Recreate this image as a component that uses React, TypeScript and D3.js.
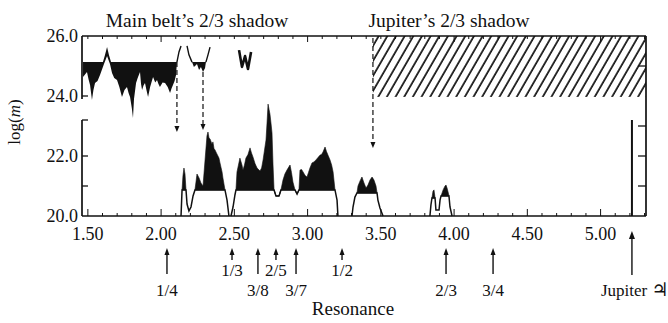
import * as d3 from "d3";

type Pt = [number, number];

// main belt's shadow (top band)
const beltTop: Pt[] = [[1.467, 25.13], [1.603, 25.13], [1.617, 25.37], [1.631, 25.63], [1.644, 25.37], [1.658, 25.13], [2.108, 25.13]];
const beltBottom: Pt[] = [[1.467, 24.63], [1.494, 24.8], [1.505, 24.55], [1.515, 24.37], [1.528, 23.87], [1.538, 24.2], [1.549, 24.43], [1.566, 24.5], [1.583, 24.7], [1.61, 25.07], [1.631, 25.33], [1.651, 25.07], [1.665, 24.77], [1.68, 24.6], [1.699, 24.53], [1.715, 24.3], [1.733, 23.97], [1.75, 24.2], [1.767, 24.3], [1.778, 24.1], [1.788, 23.97], [1.8, 23.6], [1.808, 23.27], [1.815, 23.9], [1.829, 24.43], [1.84, 24.6], [1.856, 24.8], [1.863, 24.4], [1.87, 24.2], [1.88, 24.35], [1.89, 24.43], [1.9, 24.2], [1.911, 23.97], [1.925, 24.3], [1.945, 24.63], [1.96, 24.45], [1.972, 24.53], [1.982, 24.4], [1.992, 24.3], [2.01, 24.45], [2.027, 24.43], [2.045, 24.3], [2.061, 24.1], [2.071, 24.25], [2.081, 24.37], [2.092, 24.5], [2.102, 24.7], [2.108, 25.13]];
const beltWall: Pt[] = [[2.108, 25.13], [2.122, 25.47], [2.136, 25.67]];
const pocketLeft: Pt[] = [[2.177, 25.67], [2.19, 25.37], [2.211, 25.13]];
const pocketRight: Pt[] = [[2.306, 25.13], [2.32, 25.37], [2.334, 25.63]];
const pocketTop: Pt[] = [[2.211, 25.13], [2.306, 25.13]];
const pocketBottom: Pt[] = [[2.211, 25.13], [2.224, 24.97], [2.235, 25.02], [2.245, 25.07], [2.259, 24.87], [2.272, 24.97], [2.286, 24.8], [2.3, 24.93], [2.306, 25.13]];
const wPath: Pt[] = [[2.532, 25.53], [2.552, 24.97], [2.573, 25.33], [2.593, 24.9], [2.614, 25.47]];

// Jupiter's shadow (hatched)
const hatchFrom = 3.446;
const hatchLow = 23.97;

// dashed arrows: [resonance, from, to]
const dashedArrows: [number, number, number][] = [[2.108, 25.13, 22.8], [2.286, 24.8, 22.87], [3.446, 25.93, 22.27]];

// lower clusters: outline (white area) and upper envelope (black area)
const outlineA: Pt[] = [[2.136, 20], [2.143, 20.87], [2.17, 20.87], [2.177, 20.4], [2.19, 20.17], [2.204, 20.3], [2.218, 20.67], [2.231, 20.87], [2.436, 20.87], [2.45, 20.53], [2.463, 20]];
const upperA1: Pt[] = [[2.143, 20.87], [2.149, 21.33], [2.156, 21.6], [2.163, 21.4], [2.17, 20.87]];
const upperA2: Pt[] = [[2.231, 20.87], [2.238, 21.13], [2.245, 21.4], [2.259, 21.27], [2.272, 21.1], [2.286, 21.0], [2.3, 21.87], [2.307, 22.3], [2.313, 22.67], [2.32, 22.8], [2.327, 22.6], [2.334, 22.57], [2.347, 22.4], [2.354, 22.47], [2.361, 22.25], [2.368, 22.2], [2.381, 22.07], [2.395, 21.93], [2.402, 21.77], [2.409, 21.62], [2.416, 21.47], [2.422, 21.27], [2.436, 20.87]];
const outlineB: Pt[] = [[2.477, 20], [2.491, 20.3], [2.504, 20.7], [2.511, 20.87], [2.771, 20.87], [2.784, 20.67], [2.805, 20.67], [2.818, 20.87], [2.914, 20.87], [2.928, 20.73], [2.941, 20.87], [3.187, 20.87], [3.201, 20.53], [3.207, 20]];
const upperB: Pt[] = [[2.511, 20.87], [2.518, 21.47], [2.528, 21.7], [2.538, 21.93], [2.552, 21.7], [2.559, 21.53], [2.569, 21.7], [2.579, 21.93], [2.593, 22.05], [2.607, 22.27], [2.617, 22.1], [2.627, 21.97], [2.641, 21.75], [2.655, 21.6], [2.675, 21.5], [2.686, 21.6], [2.696, 21.87], [2.706, 22.2], [2.716, 22.53], [2.723, 23.1], [2.73, 23.73], [2.737, 23.55], [2.743, 23.4], [2.75, 23.1], [2.757, 22.77], [2.764, 21.7], [2.771, 20.87], [2.784, 20.67], [2.805, 20.67], [2.818, 20.87], [2.832, 21.2], [2.845, 21.4], [2.859, 21.53], [2.88, 21.7], [2.89, 21.45], [2.9, 21.13], [2.914, 20.87], [2.928, 20.73], [2.941, 20.87], [2.948, 21.53], [2.959, 21.55], [2.969, 21.47], [2.983, 21.35], [2.996, 21.3], [3.006, 21.45], [3.016, 21.6], [3.03, 21.77], [3.043, 21.8], [3.057, 21.87], [3.071, 21.95], [3.085, 22.03], [3.095, 22.05], [3.105, 22.13], [3.119, 22.3], [3.129, 22.15], [3.139, 22.03], [3.153, 21.87], [3.164, 21.7], [3.174, 21.47], [3.187, 20.87]];
const outlineC: Pt[] = [[3.303, 20], [3.31, 20.3], [3.323, 20.63], [3.337, 20.77], [3.474, 20.77], [3.48, 20.53], [3.494, 20.27], [3.515, 20]];
const upperC: Pt[] = [[3.337, 20.77], [3.344, 21.0], [3.358, 21.17], [3.371, 21.3], [3.385, 21.1], [3.399, 20.93], [3.412, 21.03], [3.426, 21.2], [3.44, 21.3], [3.453, 21.2], [3.467, 21.0], [3.474, 20.77]];
const outlineD: Pt[] = [[3.835, 20], [3.842, 20.37], [3.849, 20.6], [3.87, 20.6], [3.876, 20.2], [3.897, 20.2], [3.904, 20.53], [3.911, 20.67], [3.965, 20.67], [3.972, 20.3], [3.986, 20]];
const upperD1: Pt[] = [[3.849, 20.6], [3.856, 20.83], [3.863, 20.87], [3.87, 20.6]];
const upperD2: Pt[] = [[3.911, 20.67], [3.925, 20.87], [3.938, 21.0], [3.945, 21.03], [3.952, 20.93], [3.959, 20.8], [3.965, 20.67]];

const jupiterPos = 5.214;
const jupiterTop = 23.2;

// resonances below the axis
const resLabels = ["1/4", "1/3", "3/8", "2/5", "3/7", "1/2", "2/3", "3/4"];
const resPos = [2.04, 2.484, 2.661, 2.784, 2.921, 3.235, 3.945, 4.266];
const resRow = [2, 1, 2, 1, 2, 1, 2, 2];

const xTicks = [1.5, 2.0, 2.5, 3.0, 3.5, 4.0, 4.5, 5.0];
const yTickLabels = [26, 24, 22, 20];

const W = 668, H = 323;
const x = d3.scaleLinear().domain([1.46, 5.31]).range([82, 646]);
const y = d3.scaleLinear().domain([20, 26]).range([216, 36]);
const line = d3.line<Pt>().x(d => x(d[0])).y(d => y(d[1]));

function band(upper: Pt[], lower: Pt[]) {
  const a = upper[0][0], b = upper[upper.length - 1][0];
  const lo = lower.filter(p => p[0] >= a && p[0] <= b).reverse();
  return line([...upper, ...lo]) + "Z";
}

const ink = "#111";
const serif = "'Liberation Serif', 'DejaVu Serif', serif";

export default function App() {
  const minor = d3.range(15, 54).map(v => v / 10);
  const clusters: [Pt[], Pt[]][] = [[upperA1, outlineA], [upperA2, outlineA], [upperB, outlineB], [upperC, outlineC], [upperD1, outlineD], [upperD2, outlineD]];
  const outlines = [outlineA, outlineB, outlineC, outlineD];
  return (
    <svg width={W} height={H} style={{ position: "absolute", left: 0, top: 0, background: "#fff" }} fontFamily={serif}>
      <defs>
        <pattern id="hatch" width="7.5" height="7.5" patternUnits="userSpaceOnUse" patternTransform="rotate(30)">
          <line x1="1" y1="0" x2="1" y2="7.5" stroke={ink} strokeWidth="1.7" />
        </pattern>
      </defs>

      {/* Jupiter's shadow */}
      <rect x={x(hatchFrom)} y={y(26)} width={x(5.31) - x(hatchFrom)} height={y(hatchLow) - y(26)} fill="url(#hatch)" />

      {/* main belt shadow */}
      <path d={band(beltTop, beltBottom)} fill={ink} />
      <path d={line(beltWall) ?? ""} fill="none" stroke={ink} strokeWidth={1.4} />
      <path d={band(pocketTop, pocketBottom)} fill={ink} />
      <path d={line(pocketLeft) ?? ""} fill="none" stroke={ink} strokeWidth={1.4} />
      <path d={line(pocketRight) ?? ""} fill="none" stroke={ink} strokeWidth={1.4} />
      <path d={line(wPath) ?? ""} fill="none" stroke={ink} strokeWidth={2.6} strokeLinejoin="round" />

      {/* clusters */}
      {clusters.map(([u, l], i) => <path key={"c" + i} d={band(u, l)} fill={ink} stroke={ink} strokeWidth={0.6} />)}
      {outlines.map((o, i) => <path key={"o" + i} d={line(o) ?? ""} fill="none" stroke={ink} strokeWidth={1.5} />)}

      {/* Jupiter */}
      <line x1={x(jupiterPos)} x2={x(jupiterPos)} y1={y(20)} y2={y(jupiterTop)} stroke={ink} strokeWidth={2} />

      {/* dashed arrows */}
      {dashedArrows.map(([r, m0, m1], i) => (
        <g key={"d" + i}>
          <line x1={x(r)} x2={x(r)} y1={y(m0)} y2={y(m1) - 5} stroke={ink} strokeWidth={1.2} strokeDasharray="5 3" />
          <path d={`M${x(r) - 2.5},${y(m1) - 6}L${x(r) + 2.5},${y(m1) - 6}L${x(r)},${y(m1)}Z`} fill={ink} />
        </g>
      ))}

      {/* frame */}
      <line x1={x(1.46)} x2={x(5.31)} y1={y(26)} y2={y(26)} stroke={ink} strokeWidth={1.5} />
      <line x1={x(1.46)} x2={x(5.31)} y1={y(20)} y2={y(20)} stroke={ink} strokeWidth={1.7} />
      <line x1={x(5.31)} x2={x(5.31)} y1={y(26)} y2={y(20)} stroke={ink} strokeWidth={1.7} />
      <line x1={x(1.46)} x2={x(1.46)} y1={y(26)} y2={y(23.9)} stroke={ink} strokeWidth={1.7} />
      <line x1={x(1.46)} x2={x(1.46)} y1={y(23.2)} y2={y(20)} stroke={ink} strokeWidth={1.7} />

      {/* ticks */}
      {minor.map(v => {
        const major = Math.abs(v * 2 - Math.round(v * 2)) < 1e-6;
        const integer = Math.abs(v - Math.round(v)) < 1e-6;
        return (
          <g key={"t" + v}>
            <line x1={x(v)} x2={x(v)} y1={y(20)} y2={y(20) - (major ? 7 : 3)} stroke={ink} strokeWidth={1} />
            <line x1={x(v)} x2={x(v)} y1={y(26)} y2={y(26) + (integer ? 6 : 3)} stroke={ink} strokeWidth={1} />
          </g>
        );
      })}
      {[24, 23.2, 22, 21].map(v => (
        <line key={"l" + v} x1={x(1.46)} x2={x(1.46) + 6} y1={y(v)} y2={y(v)} stroke={ink} strokeWidth={1.3} />
      ))}
      {[25, 23, 22, 21].map(v => (
        <line key={"r" + v} x1={x(5.31)} x2={x(5.31) - 8} y1={y(v)} y2={y(v)} stroke={ink} strokeWidth={1.3} />
      ))}

      {/* tick labels */}
      {xTicks.map(v => (
        <text key={"xl" + v} x={x(v)} y={240} textAnchor="middle" fontSize={18} fill={ink}>{v.toFixed(2)}</text>
      ))}
      {yTickLabels.map(v => (
        <text key={"yl" + v} x={78} y={y(v)} dy="0.35em" textAnchor="end" fontSize={18} fill={ink}>{v.toFixed(1)}</text>
      ))}

      {/* titles */}
      <text x={197} y={27} textAnchor="middle" fontSize={19.5} fill={ink}>Main belt’s 2/3 shadow</text>
      <text x={449} y={27} textAnchor="middle" fontSize={19.5} fill={ink}>Jupiter’s 2/3 shadow</text>
      <text transform="translate(20,122) rotate(-90)" textAnchor="middle" fontSize={17} fill={ink}>log(<tspan fontStyle="italic">m</tspan>)</text>
      <text x={353} y={315} textAnchor="middle" fontSize={19} fill={ink}>Resonance</text>

      {/* resonance arrows */}
      {resPos.map((r, i) => {
        const tail = resRow[i] === 1 ? 260 : 274;
        return (
          <g key={"ra" + i}>
            <line x1={x(r)} x2={x(r)} y1={tail} y2={252} stroke={ink} strokeWidth={1.4} />
            <path d={`M${x(r) - 2.5},${255}L${x(r) + 2.5},${255}L${x(r)},${248}Z`} fill={ink} />
            <text x={x(r)} y={resRow[i] === 1 ? 276 : 296} textAnchor="middle" fontSize={17} fill={ink}>{resLabels[i]}</text>
          </g>
        );
      })}
      <line x1={x(jupiterPos)} x2={x(jupiterPos)} y1={275} y2={236} stroke={ink} strokeWidth={1.4} />
      <path d={`M${x(jupiterPos) - 3},${239}L${x(jupiterPos) + 3},${239}L${x(jupiterPos)},${231}Z`} fill={ink} />
      <text x={601} y={296} fontSize={17} fill={ink}>Jupiter <tspan fontFamily="'DejaVu Sans'" fontSize={19}>♃</tspan></text>
    </svg>
  );
}
